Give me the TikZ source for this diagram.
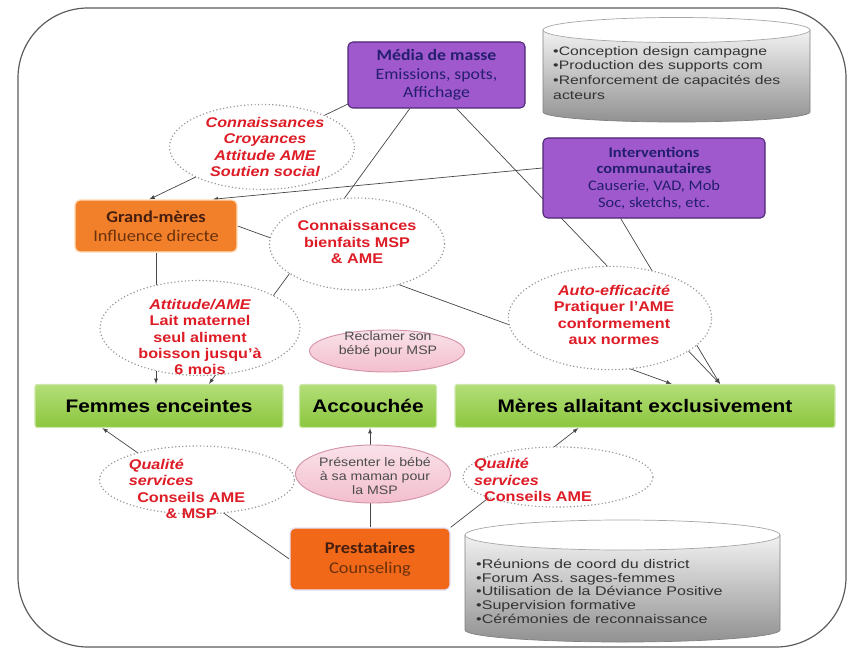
\documentclass[tikz,border=0pt]{standalone}
\usepackage{fontspec}
\setmainfont{Liberation Sans}[FakeStretch=1.15]
\newfontfamily\boxfont{Carlito}[FakeStretch=1.12]
\newfontfamily\cylfont{Liberation Sans}[FakeStretch=1.28]
\usetikzlibrary{shapes.geometric,calc}

\definecolor{redlbl}{RGB}{222,28,38}
\definecolor{linegray}{RGB}{70,70,70}
\definecolor{dotgray}{RGB}{150,150,150}
\definecolor{violetfill}{RGB}{160,88,205}
\definecolor{violetdark}{RGB}{75,40,115}
\definecolor{navytxt}{RGB}{35,30,110}
\definecolor{orangefill}{RGB}{242,128,42}
\definecolor{orangedeep}{RGB}{240,104,24}
\definecolor{browntxt}{RGB}{70,30,15}
\definecolor{greentop}{RGB}{178,222,120}
\definecolor{greenbot}{RGB}{140,198,62}
\definecolor{greenedge}{RGB}{205,232,170}
\definecolor{pinkfill}{RGB}{243,190,206}
\definecolor{pinkdark}{RGB}{212,148,168}
\definecolor{cylgray}{RGB}{145,145,145}
\definecolor{framegray}{RGB}{90,90,90}

\pgfdeclarelayer{back}
\pgfdeclarelayer{lines}
\pgfsetlayers{back,lines,main}

\begin{document}
\begin{tikzpicture}[x=0.03cm,y=0.03cm,
    conn/.style={draw=linegray, line width=0.6pt, -latex},
    mediabox/.style={draw=violetdark, line width=0.9pt, fill=violetfill, rounded corners=4pt,
        text=navytxt, align=center, inner sep=0pt},
    orbox/.style={line width=1.2pt, rounded corners=4pt, align=center, inner sep=0pt},
    cible/.style={draw=greenedge, line width=1pt, top color=greentop, bottom color=greenbot,
        rounded corners=2pt, inner sep=0pt, minimum height=1.29cm,
        font=\fontsize{15.5}{17}\selectfont\bfseries},
    dotell/.style={ellipse, draw=dotgray, dotted, line width=1pt, fill=white, inner sep=0pt},
    pinkell/.style={ellipse, draw=pinkdark, line width=0.8pt, top color=pinkfill!45!white,
        bottom color=pinkfill, inner sep=0pt},
    redtxt/.style={text=redlbl, align=center, font=\fontsize{12}{14}\selectfont\bfseries},
    pinktxt/.style={text=black!70, align=center, font=\fontsize{10.5}{12}\selectfont},
    cyltxt/.style={text=black!80, align=left, anchor=north west, inner sep=0pt}]

    \useasboundingbox (0,0) rectangle (853,-652);

    % cadre
    \begin{pgfonlayer}{back}
        \draw[framegray, line width=1pt, rounded corners=2.1cm] (18,-8) rectangle (846,-647);
    \end{pgfonlayer}

    % cylindres
    \shade[top color=white, bottom color=cylgray] (543,-30) -- (543,-112) arc (180:360:4.005cm and 0.3cm)
        -- (810,-30) arc (0:180:4.005cm and 0.375cm) -- cycle;
    \draw[gray, line width=0.6pt] (543,-30) -- (543,-112) arc (180:360:4.005cm and 0.3cm) -- (810,-30);
    \draw[gray!70, fill=white, line width=0.6pt] (676.5,-30) ellipse (4.005cm and 0.375cm);
    \node[cyltxt, font=\cylfont\fontsize{10.5}{12.5}\selectfont] (camp) at (553,-46)
        {•Conception design campagne\\•Production des supports com\\•Renforcement de capacités des\\acteurs};

    \shade[top color=white, bottom color=cylgray] (465,-535) -- (465,-630) arc (180:360:4.725cm and 0.36cm)
        -- (780,-535) arc (0:180:4.725cm and 0.45cm) -- cycle;
    \draw[gray, line width=0.6pt] (465,-535) -- (465,-630) arc (180:360:4.725cm and 0.36cm) -- (780,-535);
    \draw[gray!70, fill=white, line width=0.6pt] (622.5,-535) ellipse (4.725cm and 0.45cm);
    \node[cyltxt, font=\cylfont\fontsize{10.7}{11.7}\selectfont] (district) at (476,-559)
        {•Réunions de coord du district\\•Forum Ass. sages-femmes\\•Utilisation de la Déviance Positive\\•Supervision formative\\•Cérémonies de reconnaissance};

    % acteurs
    \node[mediabox, minimum width=5.31cm, minimum height=1.98cm, font=\boxfont\fontsize{13.5}{16}\selectfont]
        (medias) at (436.5,-75) {\textbf{Média de masse}\\Emissions, spots,\\Affichage};
    \node[mediabox, minimum width=6.66cm, minimum height=2.4cm, font=\boxfont\fontsize{12.5}{14.2}\selectfont]
        (interv) at (654,-178) {\textbf{Interventions}\\\textbf{communautaires}\\Causerie, VAD, Mob\\Soc, sketchs, etc.};
    \node[orbox, draw=orange!25!white, fill=orangefill, minimum width=4.86cm, minimum height=1.56cm,
        font=\boxfont\fontsize{14}{16}\selectfont]
        (grand) at (156,-226) {\textbf{\color{browntxt}Grand-mères}\\\color{browntxt!80!orange}Influence directe};
    \node[orbox, draw=blue!10!white, fill=orangedeep, minimum width=4.8cm, minimum height=1.86cm,
        font=\boxfont\fontsize{14}{17}\selectfont]
        (prest) at (370,-559) {\textbf{\color{browntxt}Prestataires}\\\color{browntxt!80!orange}Counseling};

    % cibles
    \node[cible, minimum width=7.44cm] (femmes) at (159,-406) {Femmes enceintes};
    \node[cible, minimum width=4.11cm] (accouchee) at (368,-406) {Accouchée};
    \node[cible, minimum width=11.4cm] (meres) at (645,-406) {Mères allaitant exclusivement};

    % effets
    \node[dotell, minimum width=5.55cm, minimum height=2.55cm] (croy) at (262,-147) {};
    \node[redtxt] (croytxt) at (265,-147) {\itshape Connaissances\\\itshape Croyances\\\itshape Attitude AME\\\itshape Soutien social};
    \node[dotell, minimum width=5.25cm, minimum height=2.76cm] (bienf) at (357,-244) {};
    \node[redtxt] (bienftxt) at (357,-242) {Connaissances\\bienfaits MSP\\\& AME};
    \node[dotell, minimum width=6cm, minimum height=2.85cm] (attit) at (200,-328) {};
    \node[redtxt] (attittxt) at (200,-337) {\itshape Attitude/AME\\Lait maternel\\seul aliment\\boisson jusqu'à\\6 mois};
    \node[dotell, minimum width=6.1cm, minimum height=3.1cm] (auto) at (610,-318) {};
    \node[redtxt] (autotxt) at (614,-315) {\itshape Auto-efficacité\\Pratiquer l'AME\\conformement\\aux normes};
    \node[dotell, minimum width=5.85cm, minimum height=2.04cm] (qual1) at (197,-480) {};
    \node[redtxt, align=left] (qual1txt) at (187,-489) {\itshape Qualité\\\itshape services\\\hspace*{0.25cm}Conseils AME\\\hspace*{1.1cm}\& MSP};
    \node[dotell, minimum width=5.7cm, minimum height=1.8cm] (qual2) at (558,-477) {};
    \node[redtxt, align=left] (qual2txt) at (533,-480) {\itshape Qualité\\\itshape services\\\hspace*{0.3cm}Conseils AME};

    % messages
    \node[pinkell, minimum width=4.65cm, minimum height=1.26cm] (recl) at (387,-351) {};
    \node[pinktxt] (recltxt) at (388,-344) {Reclamer son\\bébé pour MSP};
    \node[pinkell, minimum width=4.65cm, minimum height=1.74cm] (pres) at (373,-474) {};
    \node[pinktxt] (prestxt) at (375,-476) {Présenter le bébé\\à sa maman pour\\la MSP};

    % liens
    \begin{pgfonlayer}{lines}
        \draw[conn] ([xshift=0.15cm,yshift=0.2cm]medias.south west) -- ([xshift=-0.2cm]grand.north);
        \draw[conn] ([yshift=0.3cm]interv.west) -- ([xshift=1.7cm]grand.north);
        \draw[conn] (grand.south) -- (grand.south |- femmes.north);
        \draw[conn] ([xshift=-0.8cm]medias.south) -- ([xshift=1.5cm]femmes.north);
        \draw[conn] (grand.east) -- ([xshift=0.8cm]meres.north);
        \draw[conn] ([xshift=0.6cm]medias.south) -- ([xshift=2.25cm]meres.north);
        \draw[conn] ([xshift=-1cm]interv.south) -- ([xshift=2.25cm]meres.north);
        \draw[conn] (prest.west) -- ([xshift=-1.7cm]femmes.south);
        \draw[conn] (prest.north) -- (prest.north |- accouchee.south);
        \draw[conn] (prest.north east) -- ([xshift=-2cm]meres.south);
    \end{pgfonlayer}
\end{tikzpicture}
\end{document}
